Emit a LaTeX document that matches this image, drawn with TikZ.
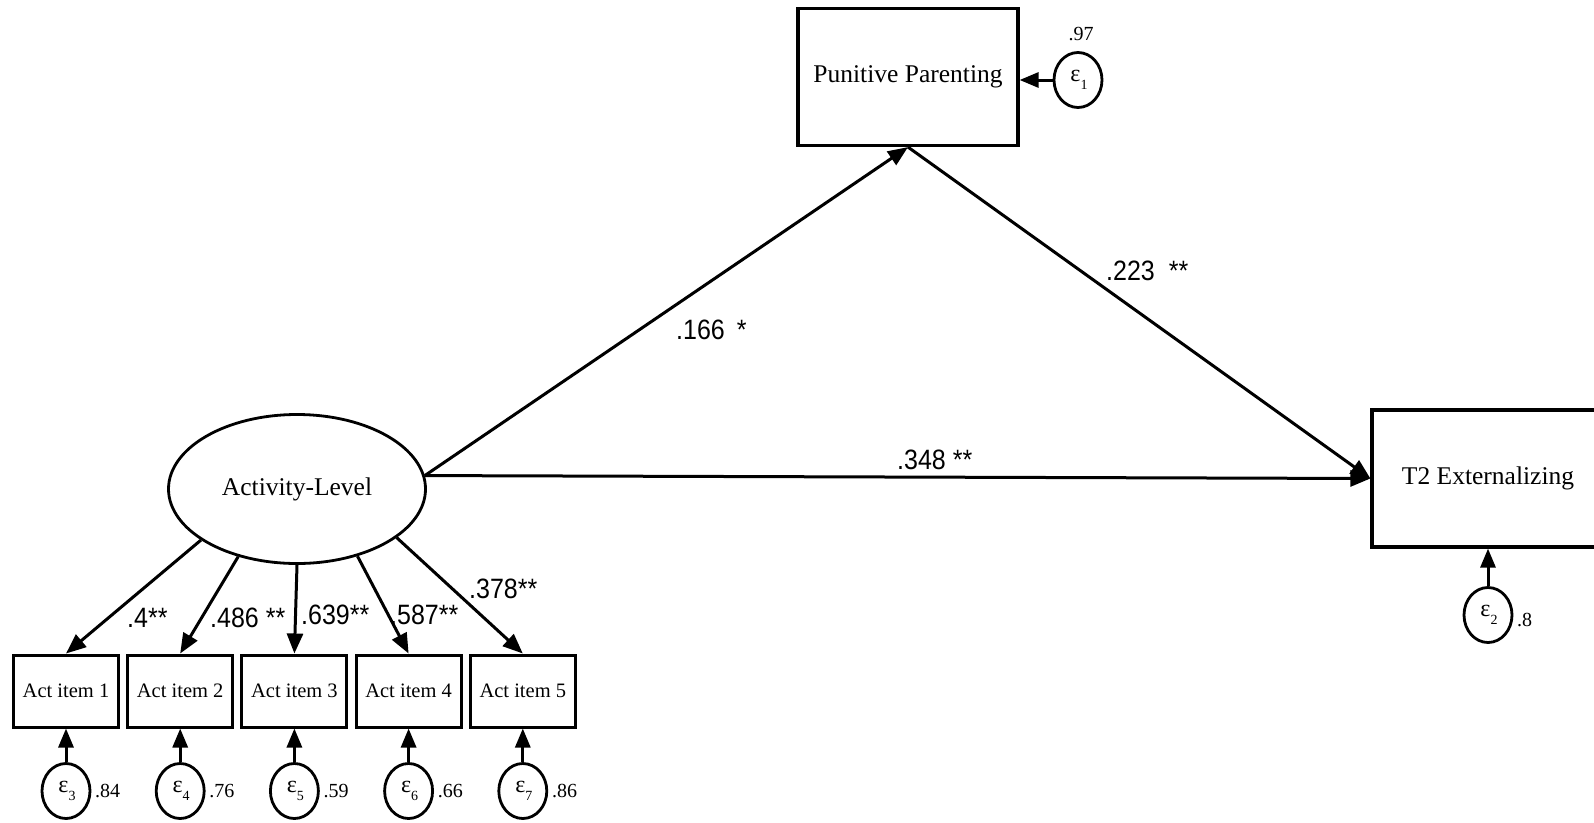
\documentclass[tikz,border=0pt]{standalone}
\usepackage{fontspec}
\setmainfont{Liberation Serif}
\newfontfamily\lsans{Liberation Sans}
\usetikzlibrary{arrows.meta,shapes.geometric}

\tikzset{
  obsbox/.style={draw, line width=3.2pt, inner sep=0pt,
    font=\fontsize{25.5}{30}\selectfont},
  itembox/.style={draw, line width=3pt, inner sep=0pt,
    minimum width=105pt, minimum height=72pt,
    font=\fontsize{20.5}{24}\selectfont},
  latent/.style={ellipse, draw, line width=2.8pt, inner sep=0pt,
    minimum width=257pt, minimum height=149pt,
    font=\fontsize{25.5}{30}\selectfont},
  errnode/.style={ellipse, draw, line width=2.8pt, inner sep=0pt,
    minimum width=48pt, minimum height=55pt,
    font=\fontsize{24}{26}\selectfont},
  patharrow/.style={line width=3pt, -{Triangle[length=20pt,width=16pt]}},
  errarrow/.style={line width=3pt, -{Triangle[length=19pt,width=15pt]}},
  coef/.style={inner sep=0pt, font=\lsans\fontsize{25}{30}\selectfont},
  varlab/.style={inner sep=0pt, anchor=west, font=\fontsize{20}{24}\selectfont}
}
% error term label: epsilon with a low index
\newcommand{\eps}[1]{\hspace{2pt}ε\raisebox{-8pt}{\fontsize{14}{14}\selectfont #1}}
% tall sans coefficient text
\newcommand{\tall}[1]{\scalebox{1}[1.12]{#1}}

\begin{document}
\begin{tikzpicture}[x=1pt, y=-1pt]
  \useasboundingbox (0,0) rectangle (1594,822);

  % structural part
  \node[latent] (act) at (297,489) {Activity-Level};
  \node[obsbox, minimum width=220pt, minimum height=137pt] (pp) at (908,77) {Punitive Parenting};
  \node[obsbox, minimum width=232pt, minimum height=137pt] (t2) at (1488,478.5) {T2 Externalizing};

  \node[errnode] (e1) at (1078,80) {\eps{1}};
  \node[varlab, anchor=center] (v1) at (1081,34) {.97};
  \node[errnode] (e2) at (1488,615) {\eps{2}};
  \node[varlab] (v2) at (1517,620) {.8};

  \draw[errarrow] (e1.west) -- (e1.west -| pp.east);
  \draw[errarrow] (e2) -- (t2);

  \draw[patharrow] (act.6) -- (pp.south);
  \draw[patharrow] (pp.south) -- (t2.west);
  \draw[patharrow] (act.6) -- (t2.west);

  \node[coef, anchor=west] (c1) at (676,330) {\tall{.166\hspace{12pt}*}};
  \node[coef, anchor=west] (c2) at (1106,271) {\tall{.223\hspace{14pt}**}};
  \node[coef, anchor=west] (c3) at (897,460) {\tall{.348 **}};

  % measurement part
  \foreach \i/\x/\e/\v in {1/66/3/.84, 2/180.2/4/.76, 3/294.4/5/.59, 4/408.6/6/.66, 5/522.8/7/.86}{
    \node[itembox] (i\i) at (\x,691) {Act item \i};
    \node[errnode] (ie\i) at (\x,791) {\eps{\e}};
    \node[varlab] (iv\i) at (\x+29,791) {\v};
    \draw[errarrow] (ie\i) -- (i\i);
  }

  \draw[patharrow] (act.208) -- (i1.north);
  \draw[patharrow] (act.229) -- (i2.north);
  \draw[patharrow] (act.270) -- (i3.north);
  \draw[patharrow] (act.312) -- (i4.north);
  \draw[patharrow] (act.334) -- (i5.north);

  \node[coef, anchor=west] (l1) at (127,618) {\tall{.4**}};
  \node[coef, anchor=west] (l2) at (210,618) {\tall{.486 **}};
  \node[coef, anchor=west] (l3) at (301,615) {\tall{.639**}};
  \node[coef, anchor=west] (l4) at (390,615) {\tall{.587**}};
  \node[coef, anchor=west] (l5) at (469,589) {\tall{.378**}};
\end{tikzpicture}
\end{document}
